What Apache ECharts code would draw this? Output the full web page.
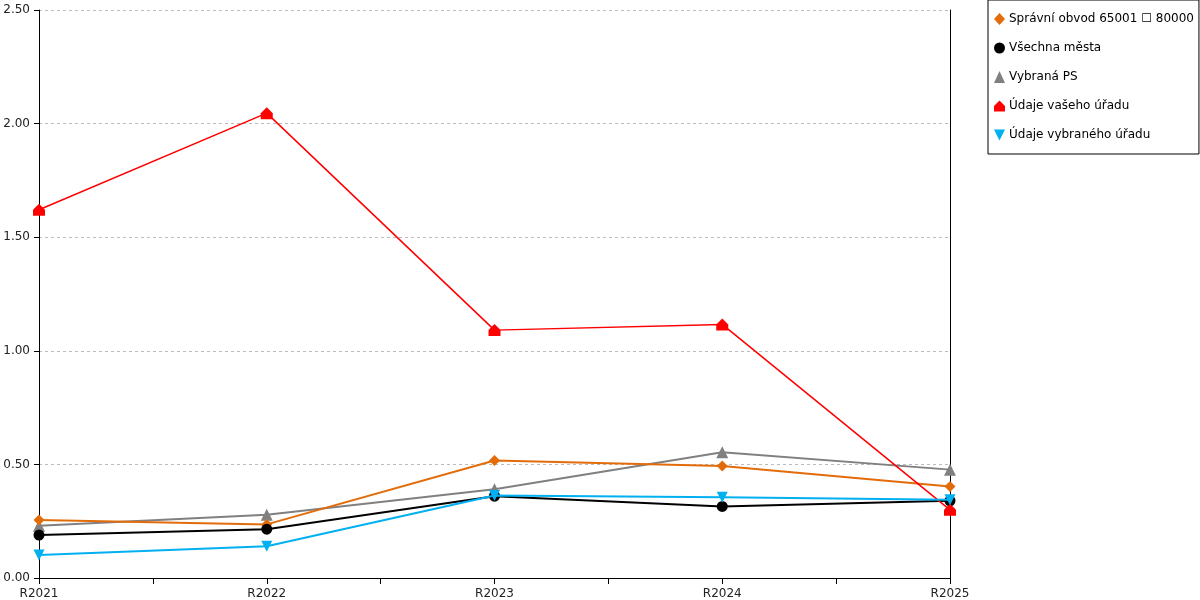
<!DOCTYPE html>
<html>
<head>
<meta charset="utf-8">
<script src="https://cdn.jsdelivr.net/npm/echarts@6/dist/echarts.min.js"></script>
<style>
  html, body { margin: 0; padding: 0; background: #fff; }
  #chart { width: 1200px; height: 600px; }
</style>
</head>
<body>
<div id="chart"></div>
<script>
// data
var years = ['R2021', 'R2022', 'R2023', 'R2024', 'R2025'];
var seriesNames = [
	'Správní obvod 65001 ☐ 80000',
	'Všechna města',
	'Vybraná PS',
	'Údaje vašeho úřadu',
	'Údaje vybraného úřadu'
];
var obvodValues   = [0.255, 0.236, 0.517, 0.493, 0.403];
var mestaValues   = [0.189, 0.215, 0.360, 0.315, 0.340];
var psValues      = [0.230, 0.278, 0.391, 0.553, 0.477];
var vasValues     = [1.621, 2.046, 1.091, 1.116, 0.300];
var vybranyValues = [0.101, 0.140, 0.363, 0.355, 0.344];
var yTicks = [0, 0.5, 1, 1.5, 2, 2.5];

var HOUSE = 'path://M5,0 L10,5 L10,10 L0,10 L0,5 Z';
var DOWN = 'path://M0,0 L10,0 L5,10 Z';

var chart = echarts.init(document.getElementById('chart'));

function line(name, data, color, symbol, size, width, z){
	return {
		name: name,
		type: 'line',
		data: data,
		xAxisIndex: 0,
		symbol: symbol,
		symbolSize: size,
		showAllSymbol: true,
		z: z,
		lineStyle: { color: color, width: width },
		itemStyle: { color: color },
		emphasis: { disabled: true },
		animation: false
	};
}

var option = {
	backgroundColor: '#fff',
	textStyle: { fontFamily: 'DejaVu Sans' },
	grid: { left: 39, right: 250, top: 10, bottom: 21, containLabel: false },
	legend: {
		orient: 'vertical',
		left: 988,
		top: 0,
		padding: [13, 5, 13, 6],
		itemGap: 17,
		itemWidth: 11,
		itemHeight: 12,
		backgroundColor: '#fff',
		borderColor: '#000',
		borderWidth: 1,
		borderRadius: 0,
		textStyle: { color: '#000', fontSize: 12, fontFamily: 'DejaVu Sans', padding: [0, 0, 0, -1] },
		data: [
			{ name: seriesNames[0], icon: 'diamond' },
			{ name: seriesNames[1], icon: 'circle' },
			{ name: seriesNames[2], icon: 'triangle' },
			{ name: seriesNames[3], icon: HOUSE },
			{ name: seriesNames[4], icon: DOWN }
		]
	},
	xAxis: [{
		type: 'category',
		data: years,
		boundaryGap: false,
		axisLine: { lineStyle: { color: '#000', width: 1 } },
		axisTick: { show: false },
		axisLabel: { color: '#222', fontSize: 12, margin: 10, fontFamily: 'DejaVu Sans' },
		splitLine: { show: false }
	}, {
		// extra ticks at categories and half-way points
		type: 'value',
		position: 'bottom',
		min: 0,
		max: years.length - 1,
		interval: 0.5,
		axisLine: { show: false },
		axisTick: { show: true, length: 6, lineStyle: { color: '#000' } },
		axisLabel: { show: false },
		splitLine: { show: false }
	}],
	yAxis: [{
		type: 'value',
		min: yTicks[0],
		max: yTicks[yTicks.length - 1],
		interval: 0.5,
		axisLine: { show: true, lineStyle: { color: '#000', width: 1 } },
		axisTick: { show: true, length: 5, lineStyle: { color: '#000' } },
		axisLabel: {
			color: '#222', fontSize: 12, margin: 9, fontFamily: 'DejaVu Sans',
			formatter: function(v){ return v.toFixed(2); }
		},
		splitLine: { show: true, lineStyle: { color: '#bbb', type: [3, 3], width: 1 } }
	}, {
		type: 'value',
		position: 'right',
		min: yTicks[0],
		max: yTicks[yTicks.length - 1],
		interval: 0.5,
		axisLine: { show: true, lineStyle: { color: '#000', width: 1 } },
		axisTick: { show: false },
		axisLabel: { show: false },
		splitLine: { show: false }
	}],
	series: [
		line(seriesNames[0], obvodValues, '#e36c0a', 'diamond', 11, 2, 3),
		line(seriesNames[1], mestaValues, '#000000', 'circle', 11, 2, 4),
		line(seriesNames[2], psValues, '#808080', 'triangle', 12, 2, 2),
		line(seriesNames[3], vasValues, '#ff0000', HOUSE, 12, 1.5, 5),
		line(seriesNames[4], vybranyValues, '#00b0f0', DOWN, 11, 2, 6)
	]
};

chart.setOption(option);
</script>
</body>
</html>
